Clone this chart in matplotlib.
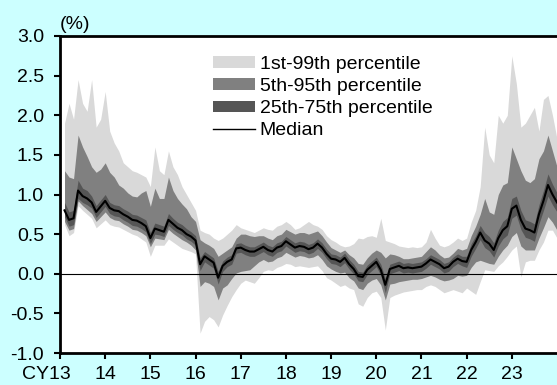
import numpy as np
import matplotlib
matplotlib.use("Agg")
import matplotlib.pyplot as plt
from matplotlib.patches import Patch
from matplotlib.lines import Line2D
from matplotlib.transforms import ScaledTranslation

plt.rcParams['font.family'] = ['Liberation Sans', 'DejaVu Sans']
plt.rcParams['axes.unicode_minus'] = False

# fiscal-year axis, one reading every 0.1 year from CY13.1 to CY24.0
anos = np.round(np.arange(13.1, 24.001, 0.1), 1)

p50 = [0.80, 0.68, 0.70, 1.05, 0.98, 0.95, 0.90, 0.78, 0.85,
       0.92, 0.83, 0.80, 0.79, 0.75, 0.72, 0.68, 0.67, 0.64, 0.60,
       0.45, 0.57, 0.55, 0.53, 0.68, 0.63, 0.58, 0.55, 0.50, 0.47,
       0.42, 0.12, 0.22, 0.18, 0.14, -0.05, 0.10, 0.15, 0.18, 0.32,
       0.33, 0.30, 0.28, 0.28, 0.31, 0.34, 0.30, 0.28, 0.33, 0.35,
       0.41, 0.37, 0.33, 0.35, 0.34, 0.31, 0.33, 0.38, 0.33, 0.25,
       0.19, 0.18, 0.15, 0.20, 0.12, 0.06, -0.03, -0.04, 0.05, 0.10,
       0.15, 0.05, -0.14, 0.06, 0.08, 0.10, 0.07, 0.08, 0.07, 0.08,
       0.09, 0.13, 0.18, 0.15, 0.12, 0.07, 0.09, 0.15, 0.19, 0.16,
       0.15, 0.30, 0.40, 0.52, 0.42, 0.38, 0.30, 0.45, 0.55, 0.60,
       0.82, 0.86, 0.68, 0.57, 0.55, 0.52, 0.75, 0.92, 1.12, 1.00,
       0.90]

p75 = [0.90, 0.78, 0.80, 1.18, 1.08, 1.05, 0.98, 0.86, 0.93,
       1.00, 0.90, 0.87, 0.86, 0.82, 0.79, 0.75, 0.74, 0.71, 0.68,
       0.52, 0.64, 0.62, 0.60, 0.76, 0.70, 0.65, 0.62, 0.57, 0.53,
       0.48, 0.20, 0.28, 0.24, 0.20, 0.03, 0.16, 0.21, 0.24, 0.38,
       0.39, 0.36, 0.34, 0.34, 0.37, 0.40, 0.36, 0.34, 0.39, 0.41,
       0.47, 0.43, 0.39, 0.41, 0.40, 0.37, 0.39, 0.44, 0.39, 0.31,
       0.25, 0.24, 0.21, 0.26, 0.18, 0.12, 0.03, 0.02, 0.11, 0.16,
       0.21, 0.12, -0.06, 0.12, 0.14, 0.16, 0.13, 0.14, 0.13, 0.14,
       0.15, 0.19, 0.24, 0.21, 0.18, 0.13, 0.15, 0.21, 0.25, 0.22,
       0.22, 0.38, 0.48, 0.61, 0.52, 0.47, 0.39, 0.55, 0.66, 0.71,
       0.95, 0.98, 0.80, 0.68, 0.66, 0.63, 0.87, 1.05, 1.26, 1.13,
       1.02]

p25 = [0.72, 0.60, 0.62, 0.95, 0.90, 0.87, 0.83, 0.71, 0.78,
       0.85, 0.76, 0.73, 0.72, 0.68, 0.65, 0.61, 0.60, 0.57, 0.53,
       0.38, 0.50, 0.49, 0.47, 0.61, 0.56, 0.52, 0.49, 0.44, 0.41,
       0.36, 0.04, 0.15, 0.11, 0.07, -0.13, 0.03, 0.09, 0.12, 0.26,
       0.27, 0.24, 0.22, 0.22, 0.25, 0.28, 0.24, 0.22, 0.27, 0.29,
       0.35, 0.31, 0.27, 0.29, 0.28, 0.25, 0.27, 0.32, 0.27, 0.19,
       0.13, 0.12, 0.09, 0.14, 0.06, 0.00, -0.09, -0.10, -0.01, 0.04,
       0.09, -0.02, -0.24, 0.00, 0.02, 0.04, 0.01, 0.02, 0.01, 0.02,
       0.03, 0.07, 0.12, 0.09, 0.06, 0.01, 0.03, 0.09, 0.13, 0.10,
       0.08, 0.22, 0.32, 0.43, 0.33, 0.29, 0.21, 0.35, 0.44, 0.49,
       0.70, 0.74, 0.56, 0.46, 0.44, 0.41, 0.63, 0.80, 0.98, 0.87,
       0.78]

p95 = [1.30, 1.22, 1.20, 1.75, 1.60, 1.48, 1.35, 1.28, 1.32,
       1.40, 1.28, 1.22, 1.12, 1.08, 1.02, 0.98, 0.97, 1.02, 1.05,
       0.85, 1.08, 0.95, 0.95, 1.22, 1.05, 0.95, 0.88, 0.82, 0.72,
       0.66, 0.43, 0.39, 0.36, 0.32, 0.22, 0.26, 0.30, 0.34, 0.45,
       0.50, 0.50, 0.48, 0.47, 0.48, 0.48, 0.45, 0.43, 0.48, 0.50,
       0.56, 0.53, 0.50, 0.52, 0.52, 0.50, 0.52, 0.54, 0.48, 0.40,
       0.33, 0.30, 0.27, 0.30, 0.24, 0.20, 0.13, 0.12, 0.20, 0.26,
       0.30, 0.27, 0.20, 0.25, 0.24, 0.22, 0.19, 0.19, 0.20, 0.21,
       0.22, 0.28, 0.34, 0.30, 0.24, 0.20, 0.21, 0.26, 0.32, 0.30,
       0.32, 0.48, 0.60, 0.75, 0.95, 0.78, 0.75, 1.00, 1.12, 1.15,
       1.60, 1.45, 1.30, 1.18, 1.15, 1.20, 1.45, 1.55, 1.75, 1.55,
       1.35]

p5 = [0.66, 0.55, 0.57, 0.92, 0.86, 0.81, 0.76, 0.66, 0.72,
      0.78, 0.71, 0.68, 0.67, 0.63, 0.60, 0.56, 0.55, 0.52, 0.48,
      0.34, 0.45, 0.44, 0.43, 0.56, 0.51, 0.47, 0.43, 0.40, 0.36,
      0.30, -0.16, -0.10, -0.12, -0.16, -0.33, -0.18, -0.14, -0.06, 0.01,
      0.03, 0.04, 0.05, 0.10, 0.15, 0.18, 0.15, 0.16, 0.20, 0.22,
      0.27, 0.24, 0.21, 0.23, 0.22, 0.20, 0.21, 0.24, 0.18, 0.10,
      0.06, 0.03, 0.01, 0.02, -0.05, -0.09, -0.18, -0.20, -0.12, -0.08,
      -0.06, -0.14, -0.33, -0.13, -0.12, -0.10, -0.09, -0.08, -0.07, -0.07,
      -0.06, -0.04, -0.02, -0.04, -0.07, -0.09, -0.08, -0.06, -0.02, -0.03,
      -0.02, 0.08, 0.15, 0.17, 0.15, 0.13, 0.12, 0.22, 0.30, 0.36,
      0.47, 0.52, 0.35, 0.30, 0.30, 0.30, 0.45, 0.58, 0.72, 0.65,
      0.55]

p99 = [1.90, 2.15, 1.95, 2.45, 2.15, 2.05, 2.45, 1.85, 1.95,
       2.30, 1.80, 1.65, 1.55, 1.40, 1.35, 1.30, 1.28, 1.25, 1.22,
       1.10, 1.60, 1.30, 1.25, 1.55, 1.35, 1.25, 1.10, 1.00, 0.90,
       0.80, 0.55, 0.52, 0.50, 0.45, 0.42, 0.45, 0.50, 0.55, 0.62,
       0.58, 0.56, 0.54, 0.52, 0.55, 0.58, 0.56, 0.55, 0.60, 0.62,
       0.66, 0.62, 0.56, 0.58, 0.62, 0.66, 0.62, 0.60, 0.56, 0.48,
       0.43, 0.40, 0.36, 0.34, 0.35, 0.38, 0.45, 0.44, 0.47, 0.48,
       0.46, 0.70, 0.42, 0.40, 0.38, 0.35, 0.34, 0.33, 0.34, 0.33,
       0.34, 0.40, 0.56, 0.45, 0.36, 0.34, 0.36, 0.40, 0.45, 0.42,
       0.45, 0.65, 0.80, 1.10, 1.85, 1.50, 1.40, 2.00, 1.90, 2.00,
       2.75, 2.40, 1.85, 1.90, 2.00, 2.10, 1.80, 2.20, 2.25, 2.00,
       1.70]

p1 = [0.62, 0.48, 0.52, 0.86, 0.80, 0.75, 0.70, 0.58, 0.63,
      0.68, 0.62, 0.60, 0.59, 0.56, 0.53, 0.50, 0.48, 0.44, 0.40,
      0.22, 0.36, 0.36, 0.36, 0.44, 0.40, 0.36, 0.32, 0.30, 0.28,
      0.25, -0.75, -0.60, -0.54, -0.58, -0.67, -0.52, -0.40, -0.29, -0.20,
      -0.12, -0.08, -0.10, -0.12, -0.05, 0.03, 0.05, 0.04, 0.08, 0.10,
      0.13, 0.12, 0.09, 0.10, 0.09, 0.08, 0.09, 0.10, 0.04, -0.05,
      -0.08, -0.12, -0.16, -0.14, -0.18, -0.20, -0.38, -0.41, -0.30, -0.24,
      -0.22, -0.30, -0.71, -0.30, -0.27, -0.25, -0.23, -0.22, -0.21, -0.20,
      -0.20, -0.16, -0.14, -0.16, -0.20, -0.24, -0.22, -0.20, -0.22, -0.24,
      -0.18, -0.22, -0.26, -0.10, 0.05, 0.04, 0.03, 0.10, 0.15, 0.22,
      0.30, 0.35, -0.04, 0.15, 0.17, 0.17, 0.30, 0.40, 0.55, 0.55,
      0.45]

rotulos_x = ['CY13', '14', '15', '16', '17', '18', '19', '20', '21', '22', '23']
rotulos_y = ['-1.0', '-0.5', '0.0', '0.5', '1.0', '1.5', '2.0', '2.5', '3.0']

cor_1_99 = '#D9D9D9'
cor_5_95 = '#808080'
cor_25_75 = '#555555'
tam_fonte = 14

fig = plt.figure(figsize=(5.57, 3.85), dpi=100, facecolor='#CCFFFF')
ax = fig.add_axes([60 / 557, 32 / 385, 497 / 557, 317 / 385])
ax.set_facecolor('white')

ax.fill_between(anos, p1, p99, color=cor_1_99, lw=0)
ax.fill_between(anos, p5, p95, color=cor_5_95, lw=0)
ax.fill_between(anos, p25, p75, color=cor_25_75, lw=0)
ax.plot(anos, p50, color='black', lw=1.5)
ax.axhline(0, color='black', lw=0.8)

ax.set_xlim(13, 24)
ax.set_ylim(-1.0, 3.0)
ax.set_xticks(np.arange(13, 24))
ax.set_xticklabels(rotulos_x, fontsize=tam_fonte)
ax.set_yticks(np.arange(-1.0, 3.01, 0.5))
ax.set_yticklabels(rotulos_y, fontsize=tam_fonte)
ax.tick_params(direction='out', length=4.5, width=1.5, colors='black')
ax.tick_params(axis='y', pad=7)
ax.tick_params(axis='x', pad=5)

for lado in ['left', 'bottom', 'top']:
    ax.spines[lado].set_linewidth(2)
ax.spines['right'].set_visible(False)

# "CY13" hangs left of its tick so the "13" sits on it
primeiro = ax.get_xticklabels()[0]
primeiro.set_transform(primeiro.get_transform() + ScaledTranslation(-13.5 / 100, 0, fig.dpi_scale_trans))

ax.annotate('(%)', xy=(0, 1), xycoords='axes fraction', xytext=(0, 2),
            textcoords='offset points', ha='left', va='bottom', fontsize=tam_fonte)

alcas = [Patch(facecolor=cor_1_99, edgecolor='none'),
         Patch(facecolor=cor_5_95, edgecolor='none'),
         Patch(facecolor=cor_25_75, edgecolor='none'),
         Line2D([0], [0], color='black', lw=1)]
nomes = ['1st-99th percentile', '5th-95th percentile', '25th-75th percentile', 'Median']
ax.legend(alcas, nomes, loc='upper left', bbox_to_anchor=(213 / 557, 1 - 56 / 385),
          bbox_transform=fig.transFigure, frameon=False, fontsize=tam_fonte,
          handlelength=2.15, handleheight=0.52, handletextpad=0.26, labelspacing=0.26,
          borderaxespad=0, borderpad=0)

fig.savefig('out.png', dpi=100, facecolor=fig.get_facecolor())
